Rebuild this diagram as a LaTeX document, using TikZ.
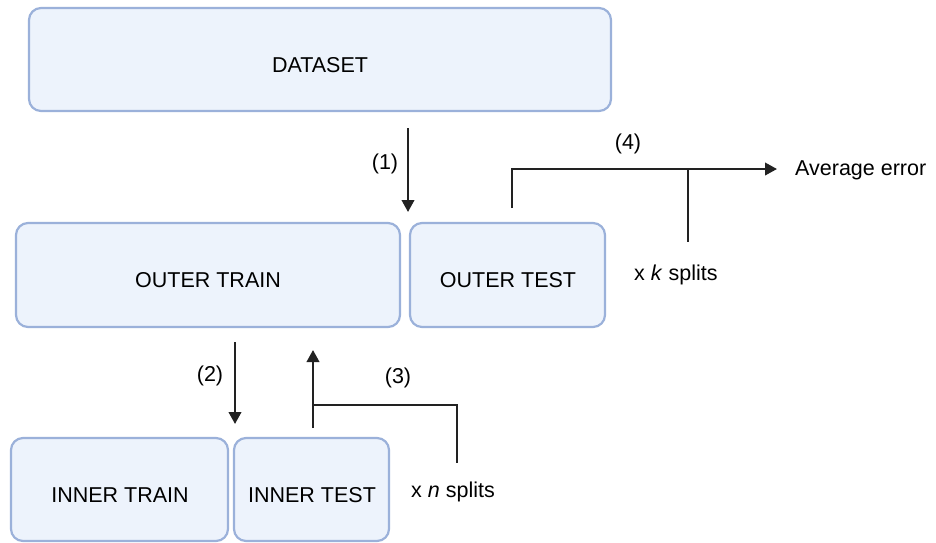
\documentclass[tikz,border=0pt]{standalone}
\usepackage{fontspec}
\setmainfont{Liberation Sans}
\usetikzlibrary{arrows.meta}
\definecolor{boxfill}{HTML}{EDF3FC}
\definecolor{boxedge}{HTML}{9BB1DA}
\definecolor{ink}{HTML}{222222}
\tikzset{
  stagebox/.style={draw=boxedge, fill=boxfill, line width=2.2pt, rounded corners=12pt},
  flow/.style={draw=ink, line width=2.3pt},
  flowarrow/.style={flow, -{Triangle[width=12.5pt,length=12pt]}},
  lbl/.style={font=\fontsize{21.5}{24}\selectfont, text=black, inner sep=0pt},
}
\begin{document}
\begin{tikzpicture}[x=1pt, y=-1pt]
\useasboundingbox (0,0) rectangle (936,542);

% stage boxes
\draw[stagebox] (29,8) rectangle (611,111);
\node[lbl] (dataset) at (320,65) {DATASET};
\draw[stagebox] (16,223) rectangle (400,327);
\node[lbl] (otrain) at (208,280) {OUTER TRAIN};
\draw[stagebox] (410,223) rectangle (605,327);
\node[lbl] (otest) at (508,280) {OUTER TEST};
\draw[stagebox] (11,438) rectangle (228,541);
\node[lbl] (itrain) at (120,495) {INNER TRAIN};
\draw[stagebox] (234,438) rectangle (389,541);
\node[lbl] (itest) at (312,495) {INNER TEST};

% step labels and side notes
\node[lbl] (s1) at (385,164) {(1)};
\node[lbl] (s2) at (210,376) {(2)};
\node[lbl] (s3) at (398,378) {(3)};
\node[lbl] (s4) at (628,144) {(4)};
\node[lbl, anchor=west] (avg) at (795,170) {Average error};
\node[lbl, anchor=west] (ksplit) at (634,275) {x \textit{k} splits};
\node[lbl, anchor=west] (nsplit) at (411,492) {x \textit{n} splits};

% connector end points
\coordinate (a1s) at (408,128);
\coordinate (a1e) at (408,212);
\coordinate (a2s) at (235,342);
\coordinate (a2e) at (235,424);
\coordinate (a3s) at (313,428);
\coordinate (a3e) at (313,350);
\coordinate (j3) at (313,405);
\coordinate (n3) at (457,463);
\coordinate (a4s) at (512,208);
\coordinate (a4e) at (777,169);
\coordinate (j4) at (688,169);
\coordinate (k4) at (688,242);

% connectors
\draw[flowarrow] (a1s) -- (a1e);
\draw[flowarrow] (a2s) -- (a2e);
\draw[flowarrow] (a3s) -- (a3e);
\draw[flow] (j3) -| (n3);
\draw[flowarrow] (a4s) |- (a4e);
\draw[flow] (j4) -- (k4);
\end{tikzpicture}
\end{document}
